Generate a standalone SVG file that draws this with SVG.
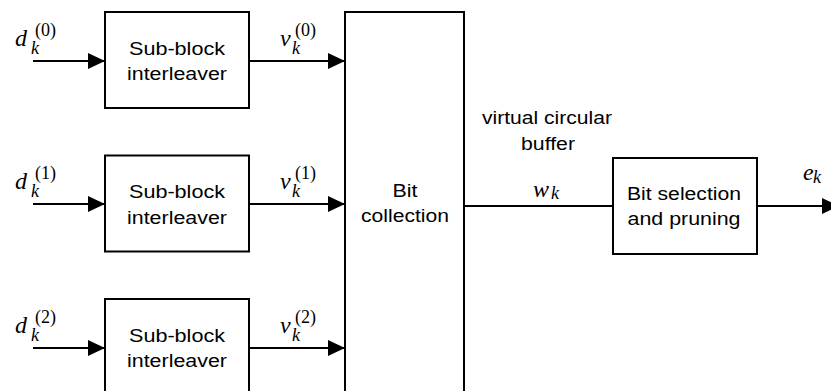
<svg xmlns="http://www.w3.org/2000/svg" width="831" height="391" viewBox="0 0 831 391">
<style>
.box{fill:#fff;stroke:#000;stroke-width:2}
.ln{fill:none;stroke:#000;stroke-width:2}
.t{font-family:"Liberation Sans",Arial,sans-serif;font-size:17.5px;fill:#000;text-anchor:middle}
.m{font-family:"Liberation Serif","Times New Roman",serif;font-style:italic;font-size:24px;fill:#000}
.s{font-family:"Liberation Serif","Times New Roman",serif;font-style:italic;font-size:18px;fill:#000}
.p{font-family:"Liberation Serif","Times New Roman",serif;font-size:18px;fill:#000}
</style>
<defs>
<marker id="ah" viewBox="0 0 17 16" refX="17" refY="8" markerWidth="17" markerHeight="16" markerUnits="userSpaceOnUse" orient="auto">
<path d="M0,0 L17,8 L0,16 z" fill="#000"/>
</marker>
</defs>
<rect width="831" height="391" fill="#fff"/>
<g id="connectors">
<line class="ln" x1="33" y1="61" x2="105" y2="61" marker-end="url(#ah)"/>
<line class="ln" x1="33" y1="204" x2="105" y2="204" marker-end="url(#ah)"/>
<line class="ln" x1="33" y1="348" x2="105" y2="348" marker-end="url(#ah)"/>
<line class="ln" x1="249" y1="61" x2="345" y2="61" marker-end="url(#ah)"/>
<line class="ln" x1="249" y1="204" x2="345" y2="204" marker-end="url(#ah)"/>
<line class="ln" x1="249" y1="348" x2="345" y2="348" marker-end="url(#ah)"/>
<line class="ln" x1="464" y1="206" x2="613" y2="206"/>
<line class="ln" x1="757" y1="206" x2="839" y2="206" marker-end="url(#ah)"/>
</g>
<g id="interleaver0">
<rect class="box" x="105" y="12" width="144" height="96"/>
<text class="t" x="177" y="54.5" textLength="96" lengthAdjust="spacingAndGlyphs">Sub-block</text>
<text class="t" x="177" y="80" textLength="100" lengthAdjust="spacingAndGlyphs">interleaver</text>
</g>
<g id="interleaver1">
<rect class="box" x="105" y="155.5" width="144" height="96"/>
<text class="t" x="177" y="198" textLength="96" lengthAdjust="spacingAndGlyphs">Sub-block</text>
<text class="t" x="177" y="223.5" textLength="100" lengthAdjust="spacingAndGlyphs">interleaver</text>
</g>
<g id="interleaver2">
<rect class="box" x="105" y="299" width="144" height="96"/>
<text class="t" x="177" y="341.5" textLength="96" lengthAdjust="spacingAndGlyphs">Sub-block</text>
<text class="t" x="177" y="367" textLength="100" lengthAdjust="spacingAndGlyphs">interleaver</text>
</g>
<g id="bitcollection">
<rect class="box" x="345" y="12" width="119" height="400"/>
<text class="t" x="405" y="197" textLength="25" lengthAdjust="spacingAndGlyphs">Bit</text>
<text class="t" x="405" y="222" textLength="88" lengthAdjust="spacingAndGlyphs">collection</text>
</g>
<g id="bitselection">
<rect class="box" x="613" y="158" width="144" height="96"/>
<text class="t" x="684" y="200" textLength="114" lengthAdjust="spacingAndGlyphs">Bit selection</text>
<text class="t" x="684" y="225" textLength="113" lengthAdjust="spacingAndGlyphs">and pruning</text>
</g>
<g id="labels">
<text class="t" x="547" y="123.5" textLength="130" lengthAdjust="spacingAndGlyphs">virtual circular</text>
<text class="t" x="548" y="150" textLength="54" lengthAdjust="spacingAndGlyphs">buffer</text>
<text class="m" x="15" y="46">d</text><text class="s" x="31" y="54">k</text><text class="p" x="35" y="36">(0)</text>
<text class="m" x="15" y="189">d</text><text class="s" x="31" y="197">k</text><text class="p" x="35" y="179">(1)</text>
<text class="m" x="15" y="333">d</text><text class="s" x="31" y="341">k</text><text class="p" x="35" y="323">(2)</text>
<text class="m" x="280" y="46">v</text><text class="s" x="292" y="54">k</text><text class="p" x="295" y="36">(0)</text>
<text class="m" x="280" y="189">v</text><text class="s" x="292" y="197">k</text><text class="p" x="295" y="179">(1)</text>
<text class="m" x="280" y="333">v</text><text class="s" x="292" y="341">k</text><text class="p" x="295" y="323">(2)</text>
<text class="m" x="533" y="197">w</text><text class="s" x="551" y="199">k</text>
<text class="m" x="803" y="180">e</text><text class="s" x="813" y="183">k</text>
</g>
</svg>
